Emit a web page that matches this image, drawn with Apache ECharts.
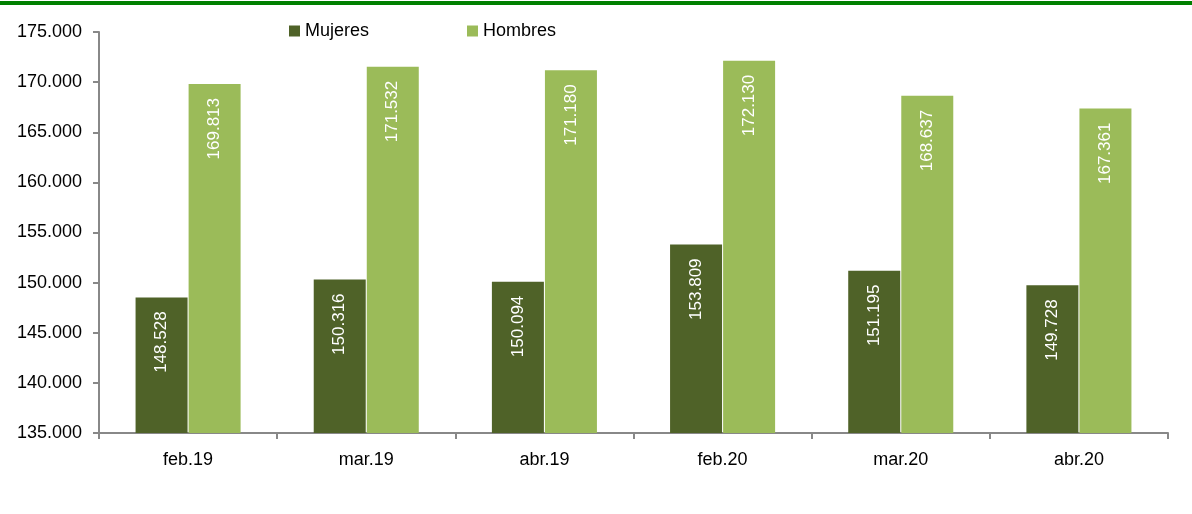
<!DOCTYPE html>
<html><head><meta charset="utf-8">
<script src="https://cdn.jsdelivr.net/npm/echarts@6/dist/echarts.min.js"></script>
<style>html,body{margin:0;padding:0;background:#fff}#c{width:1192px;height:514px}</style>
</head><body><div id="c"></div>
<script>
var categories = ['feb.19','mar.19','abr.19','feb.20','mar.20','abr.20'];
var mujeres = [148528,150316,150094,153809,151195,149728];
var hombres = [169813,171532,171180,172130,168637,167361];
var yTicks = {min:135000, max:175000, interval:5000};

function fmt(v){return String(v).replace(/\B(?=(\d{3})+(?!\d))/g,'.');}
var FONT = '"Liberation Sans", Arial, sans-serif';
var chart = echarts.init(document.getElementById('c'));
var lbl = {show:true, position:'insideTop', rotate:90, align:'right', verticalAlign:'middle', distance:14,
  color:'#fff', fontFamily:FONT, fontSize:17, formatter:function(p){return fmt(p.value);}};
chart.setOption({
  animation:false,
  graphic:[{type:'rect', left:0, top:1, shape:{width:1192,height:4}, style:{fill:'#008000'}}],
  legend:{top:17, left:284, itemGap:98, itemWidth:11, itemHeight:11, icon:'rect',
    textStyle:{fontFamily:FONT, fontSize:18, color:'#000'}},
  grid:{left:99, right:24, top:32, bottom:81},
  xAxis:{type:'category', data:categories,
    axisLine:{lineStyle:{color:'#888', width:2}},
    axisTick:{show:true, length:6, lineStyle:{color:'#888', width:2}},
    axisLabel:{fontFamily:FONT, fontSize:18, color:'#000', margin:18}},
  yAxis:{type:'value', min:yTicks.min, max:yTicks.max, interval:yTicks.interval,
    splitLine:{show:false},
    axisLine:{show:true, lineStyle:{color:'#888', width:2}},
    axisTick:{show:true, length:6, lineStyle:{color:'#888', width:2}},
    axisLabel:{fontFamily:FONT, fontSize:18, color:'#000', margin:17, formatter:function(v){return fmt(v);}}},
  series:[
    {name:'Mujeres', type:'bar', data:mujeres, barWidth:52, barGap:'2%', itemStyle:{color:'#4F6228'}, label:lbl},
    {name:'Hombres', type:'bar', data:hombres, barWidth:52, barGap:'2%', itemStyle:{color:'#9BBB59'}, label:lbl}
  ]
});
</script></body></html>
